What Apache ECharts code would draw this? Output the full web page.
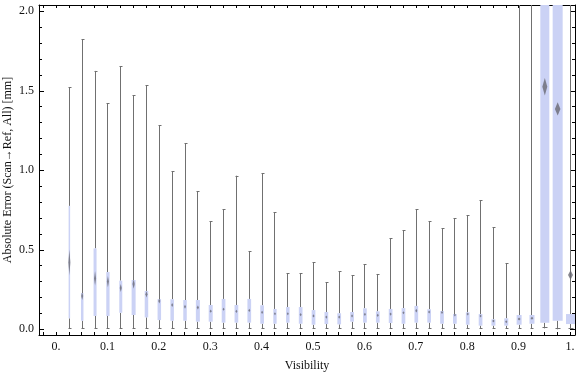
<!DOCTYPE html>
<html>
<head>
<meta charset="utf-8">
<script src="https://cdn.jsdelivr.net/npm/echarts@6/dist/echarts.min.js"></script>
<style>
html,body{margin:0;padding:0;background:#fff;}
#chart{width:576px;height:375px;}
</style>
</head>
<body>
<div id="chart"></div>
<script>
// ---- data ----
const visibility = [0.025,0.05,0.075,0.1,0.125,0.15,0.175,0.2,0.225,0.25,
  0.275,0.3,0.325,0.35,0.375,0.4,0.425,0.45,0.475,0.5,
  0.525,0.55,0.575,0.6,0.625,0.65,0.675,0.7,0.725,0.75,
  0.775,0.8,0.825,0.85,0.875,0.9,0.925,0.95,0.975,1.0];
const whiskerLow = [0.005,0.005,0.005,0.005,0.005,0.005,0.005,0.005,0.005,0.005,
  0.005,0.005,0.005,0.005,0.005,0.005,0.005,0.005,0.003,0.005,
  0.005,0.003,0.005,0.005,0.005,0.005,0.005,0.005,0.005,0.005,
  0.005,0.003,0.002,0.005,0.005,0.003,0.005,0.006,0.0,0.005];
const boxLow = [0.069,0.054,0.084,0.084,0.104,0.090,0.075,0.058,0.054,0.054,
  0.048,0.048,0.042,0.042,0.042,0.035,0.035,0.042,0.035,0.029,
  0.033,0.031,0.048,0.042,0.042,0.040,0.035,0.042,0.042,0.035,
  0.035,0.029,0.023,0.023,0.023,0.029,0.035,0.042,0.054,0.033];
const boxHigh = [0.776,0.228,0.509,0.360,0.306,0.310,0.241,0.190,0.189,0.184,
  0.184,0.153,0.191,0.153,0.191,0.151,0.128,0.140,0.140,0.121,
  0.109,0.101,0.109,0.132,0.113,0.128,0.133,0.147,0.126,0.115,
  0.096,0.107,0.096,0.063,0.069,0.090,0.090,2.6,2.6,0.096];
const whiskerHigh = [1.522,1.824,1.625,1.421,1.654,1.472,1.535,1.283,0.994,1.170,
  0.869,0.679,0.755,0.966,0.490,0.981,0.736,0.352,0.352,0.421,
  0.296,0.365,0.340,0.409,0.348,0.573,0.623,0.755,0.679,0.635,
  0.698,0.717,0.811,0.641,0.415,2.6,2.6,3.0,3.0,2.6];
const meanValue = [0.42,0.21,0.32,0.30,0.26,0.285,0.22,0.178,0.153,0.142,
  0.137,0.114,0.126,0.113,0.119,0.107,0.098,0.098,0.092,0.084,
  0.077,0.077,0.084,0.094,0.088,0.096,0.104,0.117,0.109,0.106,
  0.090,0.096,0.084,0.052,0.048,0.065,0.070,1.526,1.386,0.342];
const meanCI = [0.08,0.025,0.045,0.035,0.025,0.03,0.02,0.015,0.012,0.012,
  0.012,0.01,0.01,0.01,0.01,0.01,0.01,0.01,0.01,0.01,
  0.01,0.01,0.01,0.01,0.01,0.01,0.01,0.012,0.01,0.01,
  0.008,0.008,0.008,0.006,0.006,0.008,0.008,0.055,0.042,0.03];
const xTickValues = [0,0.1,0.2,0.3,0.4,0.5,0.6,0.7,0.8,0.9,1.0];
const xTickLabels = ['0.','0.1','0.2','0.3','0.4','0.5','0.6','0.7','0.8','0.9','1.'];
const yTickValues = [0,0.5,1.0,1.5,2.0];
const yTickLabels = ['0.0','0.5','1.0','1.5','2.0'];

// ---- style ----
const boxWidthPx = [1.5,2.5,3,3.3,3,4,3.5,3.5,3.5,3.5,
  4,4,3.7,3.7,3.7,3.7,3.3,3.5,3.7,3.7,
  3.7,3.7,3.7,3.7,3.7,3.7,3.7,3.7,3.7,3.7,
  3.7,3.7,3.7,4,4,5,5,9,10,9];
const FONT = 'Liberation Serif';
const whiskerColor = '#707070';
const boxColor = 'rgb(203,210,245)';
const diamondColor = 'rgba(105,105,115,0.8)';

const minorX = [];
for (let i = -1; i <= 40; i++) minorX.push(+(i * 0.025).toFixed(3));
const minorY = [];
for (let i = 0; i <= 20; i++) { if (i % 5 !== 0) minorY.push(+(i * 0.1).toFixed(1)); }

const data = visibility.map((v, i) => [v, whiskerLow[i], boxLow[i], boxHigh[i], whiskerHigh[i], meanValue[i], meanCI[i], i]);

function renderItem(params, api) {
  const x = api.value(0);
  const i = api.value(7);
  const pWL = api.coord([x, api.value(1)]);
  const pQ1 = api.coord([x, api.value(2)]);
  const pQ3 = api.coord([x, api.value(3)]);
  const pWH = api.coord([x, api.value(4)]);
  const pM = api.coord([x, api.value(5)]);
  const ciPx = Math.max(1.5, api.size([0, api.value(6)])[1]);
  const w = boxWidthPx[i];
  const cx = pQ1[0];
  const lx = Math.round(cx) + 0.5;
  const ls = { stroke: whiskerColor, lineWidth: 1 };
  const capW = w > 6 ? 2 : 1;
  const yTop = Math.round(pWH[1]) + 0.5;
  const yBot = Math.round(pWL[1]) - 0.5;
  const dw = Math.max(2, w * 0.55);
  return {
    type: 'group',
    children: [
      { type: 'line', shape: { x1: lx, y1: pWH[1], x2: lx, y2: pQ3[1] }, style: ls },
      { type: 'line', shape: { x1: lx, y1: pQ1[1], x2: lx, y2: pWL[1] }, style: ls },
      { type: 'line', shape: { x1: lx - capW, y1: yTop, x2: lx + capW + 1, y2: yTop }, style: ls },
      { type: 'line', shape: { x1: lx - capW, y1: yBot, x2: lx + capW + 1, y2: yBot }, style: ls },
      { type: 'rect', shape: { x: cx - w / 2 + 0.5, y: pQ3[1], width: w, height: pQ1[1] - pQ3[1] }, style: { fill: boxColor } },
      { type: 'polygon', shape: { points: [[cx + 0.5, pM[1] - ciPx], [cx + 0.5 + dw / 2, pM[1]], [cx + 0.5, pM[1] + ciPx], [cx + 0.5 - dw / 2, pM[1]]] }, style: { fill: diamondColor } }
    ]
  };
}

const XMIN = -0.0331, XMAX = 1.0097, YMIN = -0.0358, YMAX = 2.0396;
const lineBlack = { show: true, onZero: false, lineStyle: { color: '#000', width: 1 } };
const labelStyle = { fontFamily: FONT, fontSize: 12, color: '#111' };

const chart = echarts.init(document.getElementById('chart'), null, { renderer: 'canvas' });
chart.setOption({
  animation: false,
  backgroundColor: '#fff',
  grid: { left: 39, right: 1, top: 5, bottom: 40, containLabel: false, outerBoundsMode: 'none' },
  xAxis: [
    {
      type: 'value', position: 'bottom', min: XMIN, max: XMAX,
      axisLine: lineBlack,
      axisTick: { show: true, inside: true, length: 3, customValues: minorX, lineStyle: { color: '#000' } },
      axisLabel: Object.assign({ show: true, margin: 6, customValues: xTickValues,
        formatter: function (v) { const k = xTickValues.findIndex(t => Math.abs(t - v) < 1e-6); return k >= 0 ? xTickLabels[k] : ''; } }, labelStyle),
      splitLine: { show: false },
      name: 'Visibility', nameLocation: 'middle', nameGap: 25,
      nameTextStyle: { fontFamily: FONT, fontSize: 12, color: '#111' }
    },
    {
      type: 'value', position: 'top', min: XMIN, max: XMAX,
      axisLine: lineBlack,
      axisTick: { show: true, inside: true, length: 3, customValues: minorX, lineStyle: { color: '#000' } },
      axisLabel: { show: false }, splitLine: { show: false }
    }
  ],
  yAxis: [
    {
      type: 'value', position: 'left', min: YMIN, max: YMAX,
      axisLine: lineBlack,
      axisTick: { show: true, inside: true, length: 5, customValues: yTickValues, lineStyle: { color: '#000' } },
      axisLabel: Object.assign({ show: true, margin: 5, customValues: yTickValues,
        formatter: function (v) { const k = yTickValues.findIndex(t => Math.abs(t - v) < 1e-6); return k >= 0 ? yTickLabels[k] : ''; } }, labelStyle),
      splitLine: { show: false },
      name: 'Absolute Error (Scan\u2192Ref, All) [mm]', nameLocation: 'middle', nameGap: 25, nameRotate: 90,
      nameMoveOverlap: false,
      nameTextStyle: { fontFamily: FONT, fontSize: 12, color: '#111' }
    },
    {
      type: 'value', position: 'left', min: YMIN, max: YMAX,
      axisLine: { show: false, onZero: false },
      axisTick: { show: true, inside: true, length: 3, customValues: minorY, lineStyle: { color: '#000' } },
      axisLabel: { show: false }, splitLine: { show: false }
    },
    {
      type: 'value', position: 'right', min: YMIN, max: YMAX,
      axisLine: lineBlack,
      axisTick: { show: true, inside: true, length: 5, customValues: yTickValues, lineStyle: { color: '#000' } },
      axisLabel: { show: false }, splitLine: { show: false }
    },
    {
      type: 'value', position: 'right', min: YMIN, max: YMAX,
      axisLine: { show: false, onZero: false },
      axisTick: { show: true, inside: true, length: 3, customValues: minorY, lineStyle: { color: '#000' } },
      axisLabel: { show: false }, splitLine: { show: false }
    }
  ],
  series: [{
    type: 'custom',
    xAxisIndex: 0, yAxisIndex: 0,
    clip: true,
    renderItem: renderItem,
    encode: { x: 0, y: [1, 2, 3, 4, 5] },
    data: data,
    z: 1
  }]
});
</script>
</body>
</html>
